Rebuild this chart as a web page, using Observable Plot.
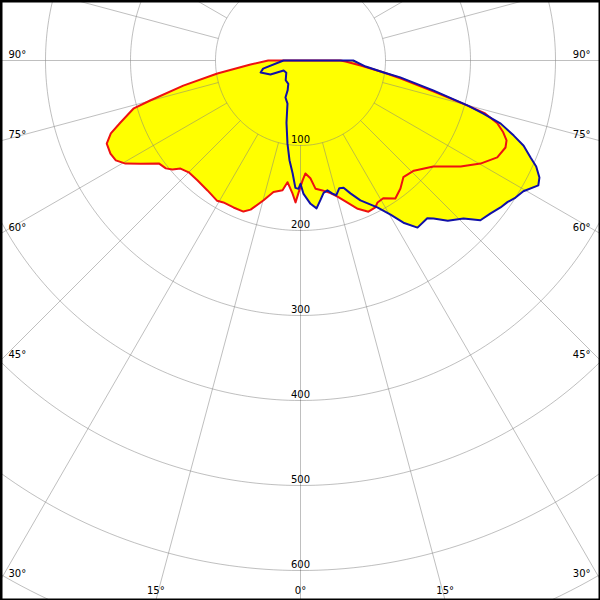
<!DOCTYPE html>
<html><head><meta charset="utf-8">
<script src="https://cdn.jsdelivr.net/npm/d3@7"></script>
<script src="https://cdn.jsdelivr.net/npm/@observablehq/plot@0.6"></script>
<style>
html,body{margin:0;padding:0;background:#fff;overflow:hidden}
#chart svg{overflow:hidden;display:block}
</style></head><body><div id="chart"></div>
<script>
// C0-C180 plane (red): signed angle (deg, left negative), intensity (cd)
const redAngles = [-90,-85.4,-81.1,-77.9,-75.1,-74.0,-71.0,-69.0,-66.8,-63.9,-61.6,-59.5,-57.2,-54.0,-51.3,-49.6,-48.0,-45.0,-40.6,-35.6,-30.7,-28.5,-24.5,-20.7,-18.5,-14.8,-11.6,-7.9,-6.1,-3.4,-2.0,-0.9,
  1.0,2.5,4.8,6.7,9.6,12.7,15.2,18.3,21.1,24.2,27.0,28.5,31.0,34.5,38.0,41.4,45.8,51.4,56.5,60.2,63.8,67.0,68.8,70.5,72.3,74.0,74.9,76.9,79.8,81.8,85.2,88.7,90];
const redValues = [38,59,99,141,183,204,224,239,248,249,247,239,224,206,203,198,190,186,186,188,192,190,190,190,185,170,158,154,144,157,167,156,
  141,133,139,152,155,160,166,176,187,195,194,190,189,197,191,183,186,200,226,244,258,262,260,253,243,226,203,161,120,99,71,53,47];
// C90-C270 plane (blue)
const blueAngles = [-90,-77.8,-73.3,-65.0,-59.5,-49.4,-36.9,-27.6,-23.4,-22.1,-16.8,-12.7,-8.9,-6.3,-4.0,-2.3,-0.9,0,
  1.3,4.0,6.2,8.1,9.9,11.7,13.5,14.9,16.9,18.7,20.6,23.2,27.6,30.3,32.4,35.0,38.8,40.1,42.6,45.9,48.4,51.2,53.7,55.6,57.5,59.6,62.3,63.9,65.8,67.1,69.1,70.6,72.5,73.8,74.9,77.3,80.4,81.8,84.7,90];
const blueValues = [20,45,49,39,23,22,29,31,38,47,53,75,99,118,133,150,151,145,
  157,169,175,166,158,156,161,164,157,158,167,179,195,210,226,240,238,243,256,267,283,287,292,295,300,304,316,313,304,294,281,266,247,224,204,160,119,99,77,62];

const ringValues = [100,200,300,400,500,600,700,800];
const ringLabelValues = [100,200,300,400,500,600];
const spokeAngles = d3.range(0,360,15);
const sideLabelAngles = [90,75,60,45,30];
const bottomLabelAngles = [-15,0,15];

// layout: pole at (300,60) px, 0.85 px per cd
const K = 0.85, W = 600, H = 600, CX = 300, CY = 60;
const xDom = [-CX / K, (W - CX) / K];
const yDom = [-(H - CY) / K, CY / K];
const rad = a => a * Math.PI / 180;
const polar = (a, v) => ({x: v * Math.sin(rad(a)), y: -v * Math.cos(rad(a))});

const redPts = redAngles.map((a, i) => polar(a, redValues[i]));
const bluePts = blueAngles.map((a, i) => polar(a, blueValues[i]));
const ringPts = ringValues.flatMap(v => d3.range(0, 361, 1).map(a => ({ring: v, ...polar(a, v)})));
const spokes = spokeAngles.map(a => {
  const p1 = polar(a, 100), p2 = polar(a, 1000);
  return {x1: p1.x, y1: p1.y, x2: p2.x, y2: p2.y};
});
const xEdge = xDom[1];
const yEdge = yDom[0];

const gridStroke = "#808080", gridOpacity = 0.5;

const chart = Plot.plot({
  width: W, height: H,
  margin: 0,
  x: {domain: xDom, axis: null},
  y: {domain: yDom, axis: null},
  style: {background: "white", fontFamily: "'DejaVu Sans', sans-serif", fontSize: "10px", overflow: "hidden"},
  marks: [
    Plot.line(redPts, {x: "x", y: "y", fill: "#ffff00", stroke: "none", curve: "linear-closed"}),
    Plot.line(bluePts, {x: "x", y: "y", fill: "#ffff00", stroke: "none", curve: "linear-closed"}),
    Plot.line(ringPts, {x: "x", y: "y", z: "ring", stroke: gridStroke, strokeOpacity: gridOpacity, strokeWidth: 1, clip: true}),
    Plot.link(spokes, {x1: "x1", y1: "y1", x2: "x2", y2: "y2", stroke: gridStroke, strokeOpacity: gridOpacity, strokeWidth: 1, clip: true}),
    Plot.text(ringLabelValues, {x: () => 0, y: v => -v, text: v => String(v), dy: -3, lineAnchor: "bottom", textAnchor: "middle", fill: "black", fontSize: 10}),
    Plot.line(redPts, {x: "x", y: "y", stroke: "#ee1111", strokeWidth: 2, curve: "linear-closed"}),
    Plot.line(bluePts, {x: "x", y: "y", stroke: "#1010a8", strokeWidth: 2, curve: "linear-closed"}),
    Plot.text(sideLabelAngles, {y: a => -xEdge / Math.tan(rad(a)), text: a => a + "°", frameAnchor: "left", dx: 8, dy: -3, textAnchor: "start", lineAnchor: "bottom", fill: "black", fontSize: 10}),
    Plot.text(sideLabelAngles, {y: a => -xEdge / Math.tan(rad(a)), text: a => a + "°", frameAnchor: "right", dx: -10, dy: -3, textAnchor: "end", lineAnchor: "bottom", fill: "black", fontSize: 10}),
    Plot.text(bottomLabelAngles, {x: a => -yEdge * Math.tan(rad(a)), text: a => Math.abs(a) + "°", frameAnchor: "bottom", dy: -7, textAnchor: "middle", lineAnchor: "bottom", fill: "black", fontSize: 10}),
    Plot.frame({stroke: "black", strokeWidth: 4})
  ]
});
document.getElementById("chart").appendChild(chart);
</script></body></html>
